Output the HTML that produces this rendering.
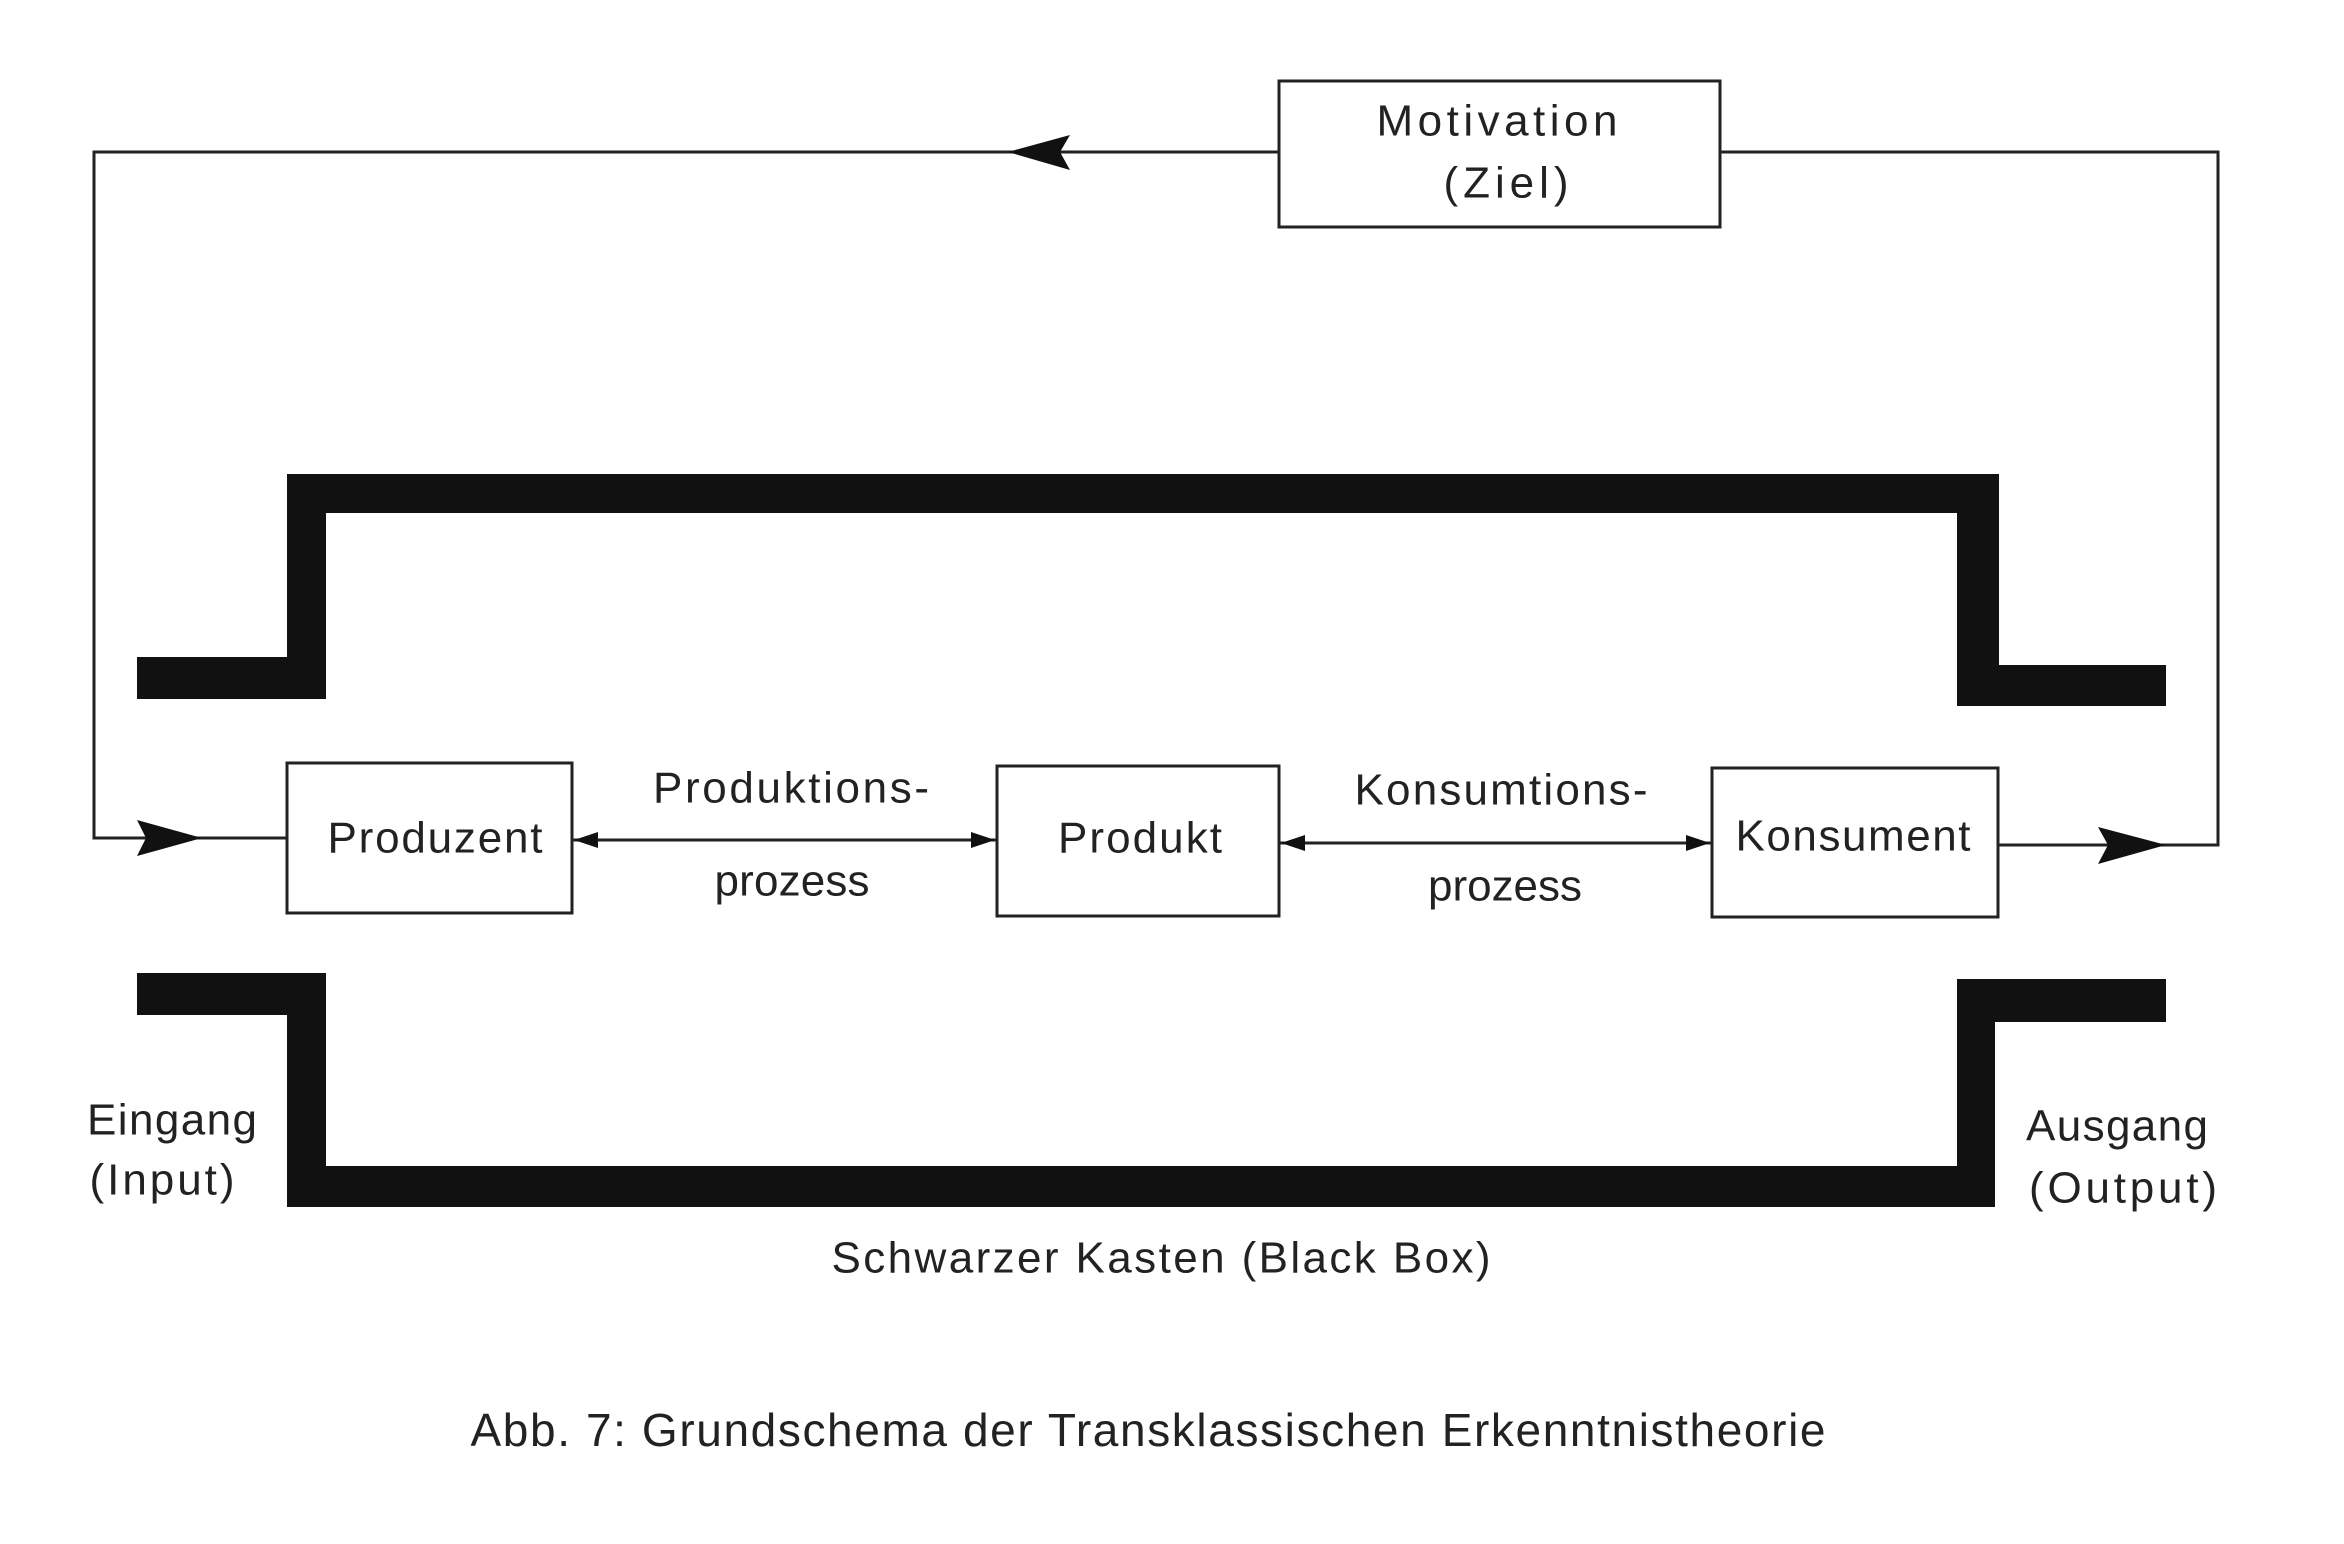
<!DOCTYPE html>
<html><head><meta charset="utf-8"><style>
html,body{margin:0;padding:0;background:#fff;}
svg{display:block}
text{font-family:"Liberation Sans",sans-serif;fill:#222;text-anchor:middle;dominant-baseline:central}
</style></head><body>
<svg width="2344" height="1544" viewBox="0 0 2344 1544" xmlns="http://www.w3.org/2000/svg">
<g fill="none" stroke="#222" stroke-width="3">
<rect x="1279" y="81" width="441" height="146"/>
<polyline points="1279,152 94,152 94,838 287,838"/>
<polyline points="1720,152 2218,152 2218,845 1998,845"/>
<rect x="287" y="763" width="285" height="150"/>
<rect x="997" y="766" width="282" height="150"/>
<rect x="1712" y="768" width="286" height="149"/>
<line x1="572" y1="840" x2="997" y2="840"/>
<line x1="1279" y1="843" x2="1712" y2="843"/>
</g>
<g fill="#111">
<polygon points="1008,152 1070,135 1060,152 1070,170"/>
<polygon points="202,838 137,820 146,838 137,856"/>
<polygon points="2166,845 2098,827 2108,845 2098,864"/>
<polygon points="574,840 598,832 598,848"/>
<polygon points="995,840 971,832 971,848"/>
<polygon points="1281,843 1305,835 1305,851"/>
<polygon points="1710,843 1686,835 1686,851"/>
<rect x="287" y="474" width="1712" height="39"/>
<rect x="287" y="474" width="39" height="225"/>
<rect x="137" y="657" width="189" height="42"/>
<rect x="1957" y="474" width="42" height="232"/>
<rect x="1957" y="665" width="209" height="41"/>
<rect x="137" y="973" width="189" height="42"/>
<rect x="287" y="973" width="39" height="234"/>
<rect x="287" y="1166" width="1708" height="41"/>
<rect x="1957" y="979" width="38" height="228"/>
<rect x="1957" y="979" width="209" height="43"/>
</g>
<g font-size="44">
<text x="1497" y="121" textLength="241" lengthAdjust="spacing">Motivation</text>
<text x="1506" y="183" textLength="125" lengthAdjust="spacing">(Ziel)</text>
<text x="435" y="838" textLength="215" lengthAdjust="spacing">Produzent</text>
<text x="1140" y="838" textLength="164" lengthAdjust="spacing">Produkt</text>
<text x="1853" y="836" textLength="235" lengthAdjust="spacing">Konsument</text>
<text x="791" y="788" textLength="276" lengthAdjust="spacing">Produktions-</text>
<text x="792" y="881" textLength="155" lengthAdjust="spacing">prozess</text>
<text x="1501" y="790" textLength="293" lengthAdjust="spacing">Konsumtions-</text>
<text x="1505" y="886" textLength="154" lengthAdjust="spacing">prozess</text>
<text x="172" y="1120" textLength="170" lengthAdjust="spacing">Eingang</text>
<text x="162" y="1180" textLength="145" lengthAdjust="spacing">(Input)</text>
<text x="2117" y="1126" textLength="182" lengthAdjust="spacing">Ausgang</text>
<text x="2123" y="1188" textLength="188" lengthAdjust="spacing">(Output)</text>
<text x="1161" y="1258" textLength="659" lengthAdjust="spacing">Schwarzer Kasten (Black Box)</text>
<text x="1148" y="1430" font-size="46" textLength="1355" lengthAdjust="spacing">Abb. 7: Grundschema der Transklassischen Erkenntnistheorie</text>
</g>
</svg>
</body></html>
